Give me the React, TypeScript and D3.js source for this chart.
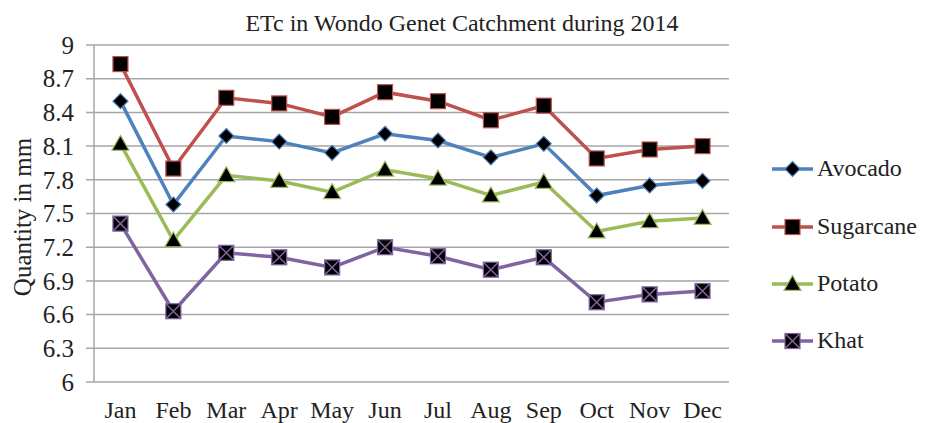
import React from "react";
import * as d3 from "d3";

const months = ["Jan", "Feb", "Mar", "Apr", "May", "Jun", "Jul", "Aug", "Sep", "Oct", "Nov", "Dec"];
const avocado = [8.5, 7.58, 8.19, 8.14, 8.04, 8.21, 8.15, 8.0, 8.12, 7.66, 7.75, 7.79];
const sugarcane = [8.83, 7.9, 8.53, 8.48, 8.36, 8.58, 8.5, 8.33, 8.46, 7.99, 8.07, 8.1];
const potato = [8.12, 7.26, 7.84, 7.79, 7.69, 7.89, 7.81, 7.66, 7.78, 7.34, 7.43, 7.46];
const khat = [7.41, 6.63, 7.15, 7.11, 7.02, 7.2, 7.12, 7.0, 7.11, 6.71, 6.78, 6.81];
const yTicks = [6, 6.3, 6.6, 6.9, 7.2, 7.5, 7.8, 8.1, 8.4, 8.7, 9];

const series = [
  { name: "Avocado", values: avocado, color: "#4F81BD", marker: "diamond" },
  { name: "Sugarcane", values: sugarcane, color: "#C0504D", marker: "square" },
  { name: "Potato", values: potato, color: "#9BBB59", marker: "triangle" },
  { name: "Khat", values: khat, color: "#8064A2", marker: "xsquare" },
];

const W = 933;
const H = 423;
const plot = { left: 94, right: 729, top: 45, bottom: 382 };
const font = "'Liberation Serif', 'Times New Roman', serif";

function Marker({ kind, x, y, color }: { kind: string; x: number; y: number; color: string }) {
  if (kind === "diamond") {
    const r = 7.5;
    return (
      <path
        d={`M${x},${y - r}L${x + r},${y}L${x},${y + r}L${x - r},${y}Z`}
        fill="#000"
        stroke={color}
        strokeWidth={1.2}
      />
    );
  }
  if (kind === "triangle") {
    const r = 8.5;
    return (
      <path
        d={`M${x},${y - r}L${x + r},${y + r * 0.75}L${x - r},${y + r * 0.75}Z`}
        fill="#000"
        stroke={color}
        strokeWidth={1.2}
      />
    );
  }
  const s = 7.5;
  return (
    <g>
      <rect x={x - s} y={y - s} width={s * 2} height={s * 2} fill="#000" stroke={color} strokeWidth={1.2} />
      {kind === "xsquare" && (
        <path
          d={`M${x - s},${y - s}L${x + s},${y + s}M${x + s},${y - s}L${x - s},${y + s}`}
          stroke={color}
          strokeWidth={1.5}
        />
      )}
    </g>
  );
}

export default function App() {
  const x = d3.scaleBand().domain(months).range([plot.left, plot.right]);
  const y = d3.scaleLinear().domain([6, 9]).range([plot.bottom, plot.top]);
  const cx = (m: string) => (x(m) as number) + x.bandwidth() / 2;
  const line = d3
    .line<number>()
    .x((_, i) => cx(months[i]))
    .y((d) => y(d));

  const legendY = [169, 227, 284, 341];

  return (
    <svg
      width={W}
      height={H}
      style={{ position: "absolute", left: 0, top: 0, background: "#fff" }}
      fontFamily={font}
    >
      <text x={462} y={31} textAnchor="middle" fontSize={24} fill="#222">
        ETc in Wondo Genet Catchment during 2014
      </text>

      {yTicks.map((t) => (
        <g key={t}>
          <line x1={plot.left - 8} x2={plot.right} y1={y(t)} y2={y(t)} stroke="#a6a6a6" strokeWidth={1.5} />
          <text x={74} y={y(t)} dy="0.35em" textAnchor="end" fontSize={25} fill="#222">
            {t}
          </text>
        </g>
      ))}
      <line x1={plot.left} x2={plot.left} y1={plot.top} y2={plot.bottom} stroke="#a6a6a6" strokeWidth={1.5} />

      {months.map((m) => (
        <text key={m} x={cx(m)} y={418} textAnchor="middle" fontSize={24} fill="#222">
          {m}
        </text>
      ))}

      <text transform={`translate(31,217) rotate(-90)`} textAnchor="middle" fontSize={25} fill="#222">
        Quantity in mm
      </text>

      {series.map((s) => (
        <g key={s.name}>
          <path d={line(s.values) || ""} fill="none" stroke={s.color} strokeWidth={3.5} />
          {s.values.map((v, i) => (
            <Marker key={i} kind={s.marker} x={cx(months[i])} y={y(v)} color={s.color} />
          ))}
        </g>
      ))}

      {series.map((s, i) => (
        <g key={s.name}>
          <line x1={772} x2={813} y1={legendY[i]} y2={legendY[i]} stroke={s.color} strokeWidth={3.5} />
          <Marker kind={s.marker} x={792.5} y={legendY[i]} color={s.color} />
          <text x={817} y={legendY[i] + 7} fontSize={24} fill="#222">
            {s.name}
          </text>
        </g>
      ))}
    </svg>
  );
}
